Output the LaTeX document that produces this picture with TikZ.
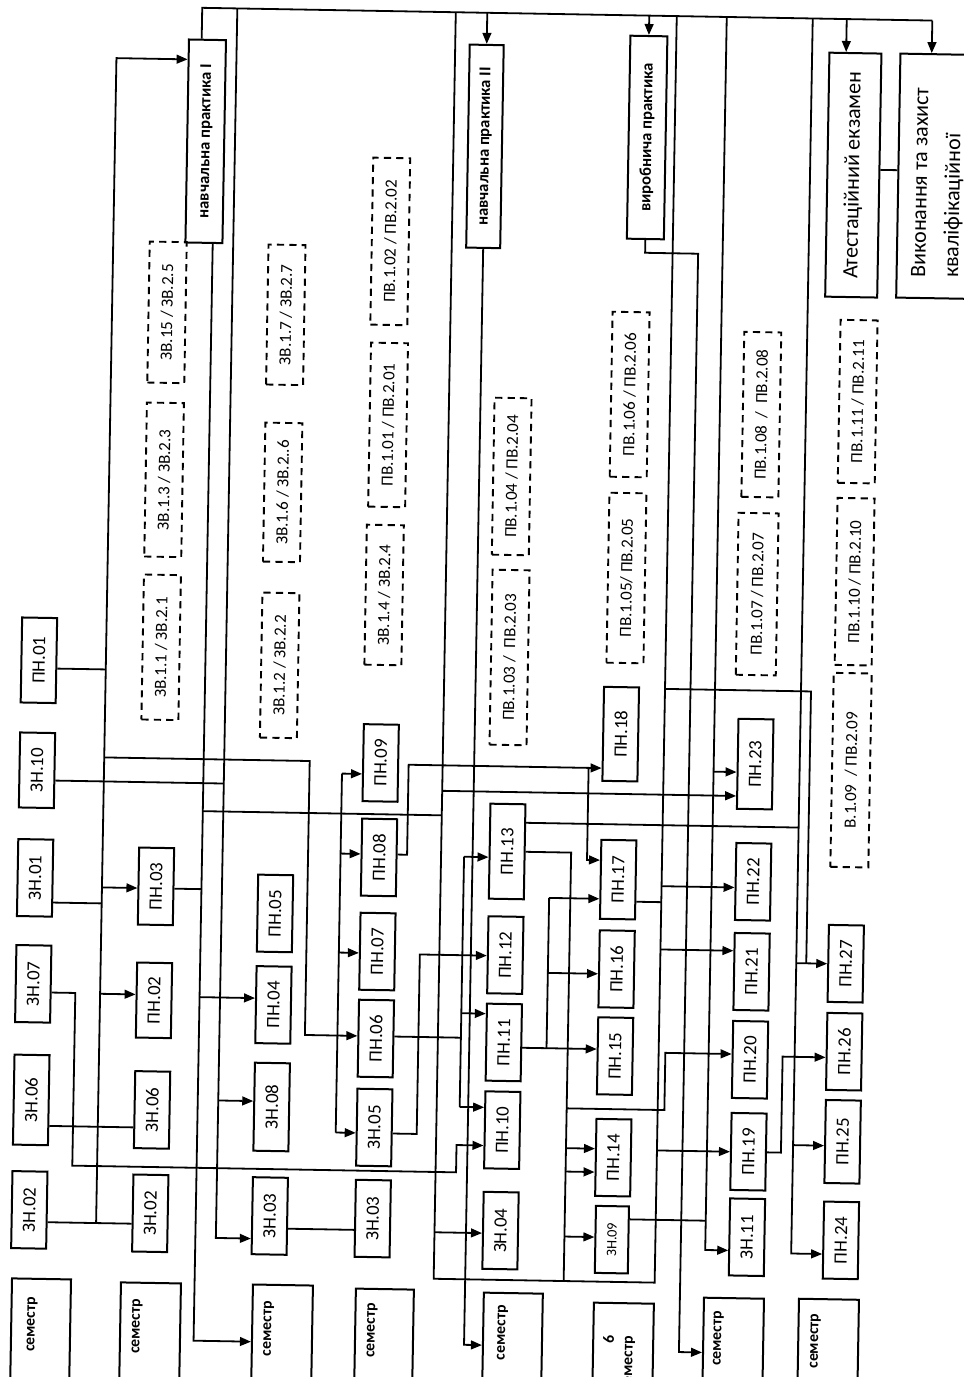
\documentclass[tikz,border=0pt]{standalone}
\usepackage{fontspec}
\setmainfont{Carlito}
\usepackage{graphicx}
\usetikzlibrary{arrows.meta}
\newcommand{\rtx}[1]{\rotatebox{90}{#1}}
\tikzset{
 bx/.style={draw, line width=1pt, inner sep=0pt, minimum width=17.5pt, minimum height=38.5pt, font=\fontsize{9.4}{11}\selectfont},
 dbx/.style={draw, line width=0.95pt, dash pattern=on 3.6pt off 2.6pt, inner sep=0pt, minimum width=18.5pt, font=\fontsize{8.5}{10}\selectfont},
 pbx/.style={draw, line width=1pt, inner sep=0pt, minimum width=18.5pt, minimum height=101.5pt, font=\bfseries\fontsize{8.3}{10}\selectfont},
 bigbx/.style={draw, line width=1pt, inner sep=0pt, minimum height=122pt, font=\fontsize{11}{13.4}\selectfont},
 sembx/.style={draw, line width=1pt, inner sep=0pt, minimum width=30pt, minimum height=75pt, anchor=north west},
 semt/.style={inner sep=0pt, font=\bfseries\fontsize{7.9}{9.4}\selectfont, anchor=south},
 ln/.style={line width=0.9pt},
 arr/.style={line width=0.9pt, -{Triangle[length=5.5pt,width=4.4pt]}},
}
\begin{document}
\begin{tikzpicture}[x=0.5pt,y=-0.5pt]
\useasboundingbox (0,0) rectangle (964,1377);
\clip (0,0) rectangle (964,1377);
\begin{scope}[transform canvas={rotate around={-1:(482,688)}}]
% ---------- column 1
\node[bx, minimum height=42.5pt] (pn01) at (38.5,668) {\rtx{ПН.01}};
\node[bx, minimum height=37.5pt] (zn10) at (38.5,778) {\rtx{ЗН.10}};
\node[bx] (zn01) at (38.5,885.6) {\rtx{ЗН.01}};
\node[bx] (zn07) at (38.5,991.6) {\rtx{ЗН.07}};
\node[bx, minimum height=45pt] (zn06a) at (38.5,1107.7) {\rtx{ЗН.06}};
\node[bx] (zn02a) at (38.5,1217.7) {\rtx{ЗН.02}};
% ---------- column 2
\node[bx] (pn03) at (159.5,892) {\rtx{ПН.03}};
\node[bx, minimum height=37.5pt] (pn02) at (159.5,1006) {\rtx{ПН.02}};
\node[bx] (zn06b) at (159.5,1115.6) {\rtx{ЗН.06}};
\node[bx] (zn02b) at (159.5,1219) {\rtx{ЗН.02}};
% ---------- column 3
\node[bx] (pn05) at (279,917) {\rtx{ПН.05}};
\node[bx] (pn04) at (279,1008.5) {\rtx{ПН.04}};
\node[bx, minimum height=44pt] (zn08) at (279,1110.6) {\rtx{ЗН.08}};
\node[bx] (zn03a) at (279,1219.6) {\rtx{ЗН.03}};
% ---------- column 4
\node[bx] (pn09) at (382,764.7) {\rtx{ПН.09}};
\node[bx] (pn08) at (382,859.2) {\rtx{ПН.08}};
\node[bx] (pn07) at (382,953.3) {\rtx{ПН.07}};
\node[bx] (pn06) at (382,1040.3) {\rtx{ПН.06}};
\node[bx] (zn05) at (382,1129.3) {\rtx{ЗН.05}};
\node[bx] (zn03b) at (382,1220.4) {\rtx{ЗН.03}};
% ---------- column 5
\node[bx, minimum height=47.5pt] (pn13) at (510,851) {\rtx{ПН.13}};
\node[bx] (pn12) at (510,954.6) {\rtx{ПН.12}};
\node[bx] (pn11) at (510,1042) {\rtx{ПН.11}};
\node[bx] (pn10) at (510,1129.7) {\rtx{ПН.10}};
\node[bx] (zn04) at (510,1230.2) {\rtx{ЗН.04}};
% ---------- column 6
\node[bx, minimum height=47pt] (pn18) at (621.5,731.7) {\rtx{ПН.18}};
\node[bx, minimum height=39.5pt] (pn17) at (621.5,877.2) {\rtx{ПН.17}};
\node[bx] (pn16) at (621.5,966.7) {\rtx{ПН.16}};
\node[bx] (pn15) at (621.5,1053.7) {\rtx{ПН.15}};
\node[bx] (pn14) at (621.5,1155.3) {\rtx{ПН.14}};
\node[bx, minimum width=16.5pt, minimum height=33.5pt, font=\fontsize{7.2}{9}\selectfont] (zn09) at (621.5,1237.3) {\rtx{ЗН.09}};
% ---------- column 7
\node[bx, minimum height=45pt] (pn23) at (756.5,759.3) {\rtx{ПН.23}};
\node[bx] (pn22) at (756.5,877) {\rtx{ПН.22}};
\node[bx] (pn21) at (756.5,967) {\rtx{ПН.21}};
\node[bx] (pn20) at (756.5,1055) {\rtx{ПН.20}};
\node[bx] (pn19) at (756.5,1147) {\rtx{ПН.19}};
\node[bx] (zn11) at (756.5,1232.5) {\rtx{ЗН.11}};
% ---------- column 8
\node[bx] (pn27) at (850.5,957.3) {\rtx{ПН.27}};
\node[bx] (pn26) at (850.5,1045.3) {\rtx{ПН.26}};
\node[bx, minimum height=41.5pt] (pn25) at (850.5,1135.4) {\rtx{ПН.25}};
\node[bx] (pn24) at (850.5,1234) {\rtx{ПН.24}};
% ---------- practice / final boxes
\node[pbx] (np1) at (196.2,146.2) {\rtx{навчальна практика I}};
\node[pbx, minimum width=17pt] (np2) at (475.5,146.4) {\rtx{навчальна практика II}};
\node[pbx] (vp) at (637.5,134.7) {\rtx{виробнича практика}};
\node[bigbx, minimum width=26pt] (att) at (844.3,168.7) {\rtx{Атестаційний екзамен}};
\node[bigbx, minimum width=60pt, anchor=west] (vyk) at (888.3,168.4) {};
\node[inner sep=0pt, anchor=south, font=\fontsize{11}{13.4}\selectfont] (vykt) at (929,270)
  {\rtx{\begin{tabular}{@{}l@{}}Виконання та захист\\[3pt]кваліфікаційної\end{tabular}}};
% ---------- dashed elective boxes
\node[dbx, minimum height=72.5pt] (zv11) at (160.5,652.9) {\rtx{ЗВ.1.1 / ЗВ.2.1}};
\node[dbx, minimum height=77pt] (zv13) at (160.5,485.4) {\rtx{ЗВ.1.3 / ЗВ.2.3}};
\node[dbx, minimum height=70.5pt] (zv15) at (160.5,317.9) {\rtx{ЗВ.15 / ЗВ.2.5}};
\node[dbx, minimum height=72.5pt] (zv12) at (279.3,668.9) {\rtx{ЗВ.1.2 / ЗВ.2.2}};
\node[dbx, minimum height=69.5pt] (zv16) at (279.3,495.9) {\rtx{ЗВ.1.6 / ЗВ.2..6}};
\node[dbx, minimum height=70pt] (zv17) at (279.3,318.3) {\rtx{ЗВ.1.7 / ЗВ.2.7}};
\node[dbx, minimum height=70pt] (zv14) at (382.5,596.7) {\rtx{ЗВ.1.4 / ЗВ.2.4}};
\node[dbx, minimum height=82pt] (pv101) at (383.5,426.6) {\rtx{ПВ.1.01 / ПВ.2.01}};
\node[dbx, minimum height=83.5pt] (pv102) at (382.5,243.1) {\rtx{ПВ.1.02 / ПВ.2.02}};
\node[dbx, minimum height=87.5pt] (pv103) at (509,657) {\rtx{ПВ.1.03 /\ \ ПВ.2.03}};
\node[dbx, minimum height=78.5pt] (pv104) at (508,476) {\rtx{ПВ.1.04 / ПВ.2.04}};
\node[dbx, minimum height=85pt] (pv105) at (624.5,575.5) {\rtx{ПВ.1.05/ ПВ.2.05}};
\node[dbx, minimum height=82.5pt] (pv106) at (624.5,392) {\rtx{ПВ.1.06 / ПВ.2.06}};
\node[dbx, minimum height=81pt, minimum width=20pt] (pv107) at (755.5,589.3) {\rtx{ПВ.1.07 / ПВ.2.07}};
\node[dbx, minimum height=82.5pt] (pv108) at (756.5,409.8) {\rtx{ПВ.1.08 \ / \ ПВ.2.08}};
\node[dbx, minimum height=83.5pt] (pv110) at (852.7,575.2) {\rtx{ПВ.1.10 / ПВ.2.10}};
\node[dbx, minimum height=81.5pt] (pv111) at (852.6,395.1) {\rtx{ПВ.1.11 / ПВ.2.11}};
\node[dbx, minimum height=97pt, minimum width=19pt] (pv109) at (852.4,763.7) {\rtx{В.1.09 \ / ПВ.2.09}};
% ---------- semester boxes
\node[sembx, minimum width=29.5pt] (sem1) at (21.4,1285.5) {};
\node[sembx] (sem2) at (130.4,1287.6) {};
\node[sembx] (sem3) at (262.4,1287.4) {};
\node[sembx, minimum width=29pt] (sem4) at (365.4,1289.7) {};
\node[sembx, minimum width=29.5pt] (sem5) at (493.4,1291.5) {};
\node[sembx] (sem6) at (603.6,1299.6) {};
\node[sembx] (sem7) at (713.6,1292.7) {};
\node[sembx] (sem8) at (808.6,1292.1) {};
\node[semt] (sem1t) at (43.3,1360) {\rtx{семестр}};
\node[semt] (sem2t) at (148.3,1360) {\rtx{семестр}};
\node[semt] (sem3t) at (279.8,1360) {\rtx{семестр}};
\node[semt] (sem4t) at (383.3,1360) {\rtx{семестр}};
\node[semt] (sem5t) at (513.8,1360) {\rtx{семестр}};
\node[semt, anchor=north] (sem6t) at (631,1333) {\rtx{\begin{tabular}{@{}r@{}}6\\семестр\end{tabular}}};
\node[semt] (sem7t) at (729.8,1362) {\rtx{семестр}};
\node[semt] (sem8t) at (826.8,1363) {\rtx{семестр}};
% ---------- top bus
\draw[ln] (np1.north -| 190.4,0) |- (920.6,12.8);
\draw[arr] (920.6,12.8) -- (vyk.north -| 920.6,0);
\draw[arr] (835,12.8) -- (att.north -| 835,0);
\draw[arr] (vp.north |- 0,12.8) -- (vp.north);
\draw[arr] (np2.north |- 0,12.8) -- (np2.north);
\draw[ln] (att.east |- 0,163) -- (vyk.west |- 0,163);
% ---------- first bus
\draw[arr] (105.5,1229.7) |- (np1.west |- 0,64.6);
\draw[ln] (zn02a.east |- 0,1229.7) -- (zn02b.west |- 0,1229.7);
\draw[ln] (zn06a.east |- 0,1133.4) -- (zn06b.west |- 0,1133.4);
\draw[ln] (pn01.east |- 0,676) -- (105.5,676);
\draw[ln] (zn01.east |- 0,910) -- (105.5,910);
\draw[arr] (105.5,894) -- (pn03.west |- 0,894);
\draw[arr] (105.5,1000.4) -- (pn02.west |- 0,1000.4);
\draw[arr] (105.5,764) -| (311,1038) -- (pn06.west |- 0,1038);
\draw[ln] (zn10.east |- 0,788) -- (225.5,788);
\draw[arr] (zn07.east |- 0,1000) -| (80.7,1172.7) -| (464.5,1145.4) -- (pn10.west |- 0,1145.4);
% ---------- lines A and B
\draw[arr] (np1.south -| 205,0) |- (sem3.west |- 0,1345.6);
\draw[ln] (pn03.east |- 0,894) -- (205,894);
\draw[arr] (205,1002) -- (pn04.west |- 0,1002);
\draw[ln] (205,816) -- (444,816);
\draw[arr] (225.5,12.8) |- (zn03a.west |- 0,1242.5);
\draw[arr] (225.5,1105) -- (zn08.west |- 0,1105);
\draw[ln] (zn03a.east |- 0,1232) -- (zn03b.west |- 0,1232);
% ---------- column 4 distributor
\draw[ln] (343.5,776) -- (343.5,1135);
\draw[arr] (343.5,776) -- (pn09.west |- 0,776);
\draw[arr] (343.5,856) -- (pn08.west |- 0,856);
\draw[arr] (343.5,955) -- (pn07.west |- 0,955);
\draw[arr] (343.5,1135) -- (zn05.west |- 0,1135);
\draw[arr] (pn08.east |- 0,856) -| (410,766) -- (pn18.west |- 0,766);
\draw[arr] (590,766) |- (pn17.west |- 0,858);
\draw[arr] (zn05.east |- 0,1135) -| (424.5,955.5) -- (pn12.west |- 0,955.5);
% ---------- lines C and E
\draw[ln] (444,12.8) |- (665,1279.5) -- (665,12.8);
\draw[arr] (444,1233) -- (zn04.west |- 0,1233);
\draw[arr] (444,791.5) -- (pn23.west |- 0,791.5);
% ---------- line D
\draw[arr] (np2.south) |- (sem5.west |- 0,1345);
% ---------- ПН.06 distributor
\draw[ln] (pn06.east |- 0,1038) -- (467,1038);
\draw[ln] (467,857) -- (467,1107.2);
\draw[arr] (467,857) -- (pn13.west |- 0,857);
\draw[arr] (467,1013.5) -- (pn11.west |- 0,1013.5);
\draw[arr] (467,1107.2) -- (pn10.west |- 0,1107.2);
% ---------- ПН.13 outputs
\draw[ln] (pn13.east |- 0,822) -- (801,822);
\draw[ln] (pn13.east |- 0,851) -| (574,1279.5);
\draw[arr] (574,1106.8) -| (671.7,1049.6) -- (pn20.west |- 0,1049.6);
\draw[arr] (574,1146.6) -- (pn14.west |- 0,1146.6);
\draw[arr] (574,1170) -- (pn14.west |- 0,1170);
\draw[arr] (574,1235) -- (zn09.west |- 0,1235);
% ---------- ПН.11 outputs
\draw[arr] (pn11.east |- 0,1047) -- (pn15.west |- 0,1047);
\draw[ln] (552.8,1047) -- (552.8,896.7);
\draw[arr] (552.8,971.7) -- (pn16.west |- 0,971.7);
\draw[arr] (552.8,896.7) -- (pn17.west |- 0,896.7);
% ---------- line E users
\draw[ln] (pn17.east |- 0,899) -- (665,899);
\draw[arr] (665,883) -- (pn22.west |- 0,883);
\draw[arr] (665,946.3) -- (pn21.west |- 0,946.3);
\draw[arr] (665,1147.3) -- (pn19.west |- 0,1147.3);
\draw[ln] (665,685.7) -| (811,957.6);
\draw[arr] (801,957.6) -- (pn27.west |- 0,957.6);
% ---------- line F
\draw[arr] (801,12.8) |- (pn24.west |- 0,1248);
\draw[arr] (801,1139.6) -- (pn25.west |- 0,1139.6);
\draw[arr] (pn19.east |- 0,1147.3) -| (789,1051.3) -- (pn26.west |- 0,1051.3);
% ---------- line H
\draw[arr] (715,12.8) |- (zn11.west |- 0,1246);
\draw[arr] (715,767.6) -- (pn23.west |- 0,767.6);
\draw[ln] (zn09.east |- 0,1216.7) -- (715,1216.7);
% ---------- line I
\draw[arr] (vp.south) |- (690.5,250) |- (sem7.west |- 0,1348.5);
\end{scope}
\end{tikzpicture}
\end{document}
